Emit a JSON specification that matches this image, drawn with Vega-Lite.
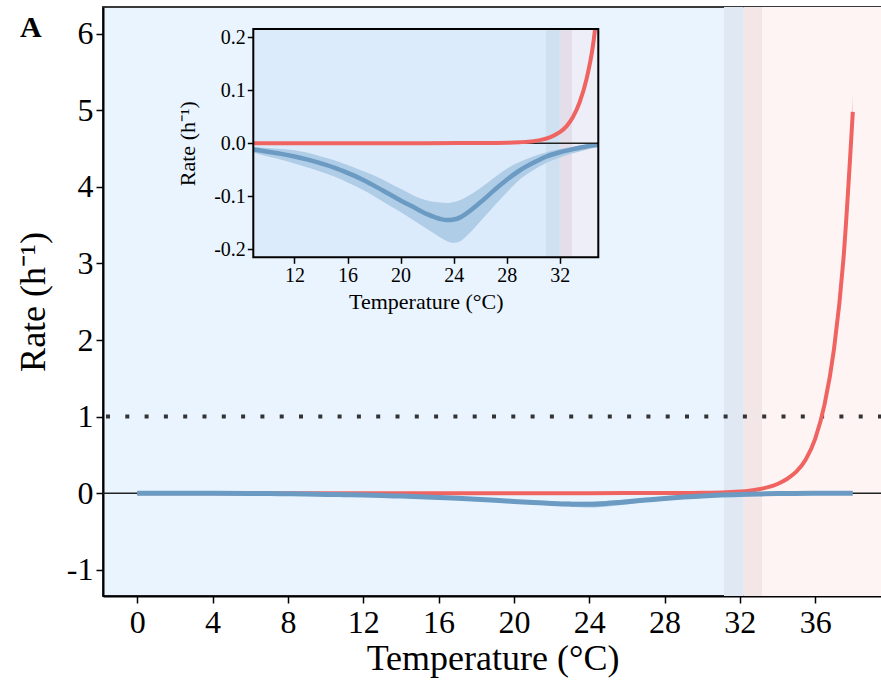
{
  "$schema": "https://vega.github.io/schema/vega-lite/v6.json",
  "width": 779,
  "height": 589,
  "autosize": {"type": "none"},
  "padding": {"left": 103, "top": 7, "right": 0, "bottom": 90},
  "background": "white",
  "config": {
    "view": {"fill": "#EAF4FE", "stroke": "#3a3a3a", "strokeWidth": 2},
    "font": "Liberation Serif",
    "axis": {"labelFont": "Liberation Serif", "titleFont": "Liberation Serif", "labelColor": "black", "titleColor": "black", "tickColor": "black", "domainColor": "black", "grid": false, "titleFontWeight": "normal"}
  },
  "title": {"text": "A", "anchor": "start", "frame": "group", "fontSize": 30, "fontWeight": "bold", "font": "Liberation Serif", "color": "black", "dx": -83, "dy": 36, "offset": 0},
  "datasets": {
    "blue": [
      {"T": 0, "V": -0.0005, "upper": 0, "lower": -0.001},
      {"T": 2, "V": -0.001, "upper": -0.0003, "lower": -0.002},
      {"T": 4, "V": -0.0018, "upper": -0.0007, "lower": -0.003},
      {"T": 6, "V": -0.0035, "upper": -0.0015, "lower": -0.0055},
      {"T": 7, "V": -0.005, "upper": -0.0025, "lower": -0.008},
      {"T": 8, "V": -0.008, "upper": -0.004, "lower": -0.012},
      {"T": 8.9, "V": -0.0115, "upper": -0.0065, "lower": -0.0175},
      {"T": 10, "V": -0.016, "upper": -0.009, "lower": -0.025},
      {"T": 11, "V": -0.02, "upper": -0.011, "lower": -0.031},
      {"T": 12, "V": -0.025, "upper": -0.013, "lower": -0.038},
      {"T": 13, "V": -0.031, "upper": -0.018, "lower": -0.046},
      {"T": 14, "V": -0.038, "upper": -0.025, "lower": -0.054},
      {"T": 15, "V": -0.046, "upper": -0.032, "lower": -0.063},
      {"T": 16, "V": -0.056, "upper": -0.041, "lower": -0.074},
      {"T": 17, "V": -0.067, "upper": -0.051, "lower": -0.086},
      {"T": 18, "V": -0.08, "upper": -0.061, "lower": -0.1},
      {"T": 19, "V": -0.094, "upper": -0.073, "lower": -0.115},
      {"T": 20, "V": -0.108, "upper": -0.086, "lower": -0.13},
      {"T": 21, "V": -0.121, "upper": -0.099, "lower": -0.146},
      {"T": 22, "V": -0.134, "upper": -0.108, "lower": -0.162},
      {"T": 23, "V": -0.143, "upper": -0.112, "lower": -0.178},
      {"T": 23.5, "V": -0.145, "upper": -0.113, "lower": -0.185},
      {"T": 24, "V": -0.144, "upper": -0.111, "lower": -0.188},
      {"T": 24.5, "V": -0.14, "upper": -0.107, "lower": -0.185},
      {"T": 25, "V": -0.132, "upper": -0.101, "lower": -0.175},
      {"T": 26, "V": -0.112, "upper": -0.085, "lower": -0.148},
      {"T": 27, "V": -0.09, "upper": -0.066, "lower": -0.12},
      {"T": 28, "V": -0.069, "upper": -0.048, "lower": -0.093},
      {"T": 29, "V": -0.051, "upper": -0.035, "lower": -0.068},
      {"T": 30, "V": -0.037, "upper": -0.025, "lower": -0.051},
      {"T": 31, "V": -0.025, "upper": -0.017, "lower": -0.037},
      {"T": 32, "V": -0.017, "upper": -0.011, "lower": -0.027},
      {"T": 33, "V": -0.011, "upper": -0.006, "lower": -0.019},
      {"T": 34, "V": -0.006, "upper": -0.003, "lower": -0.012},
      {"T": 34.9, "V": -0.003, "upper": -0.001, "lower": -0.007},
      {"T": 36, "V": -0.0015, "upper": -0.0005, "lower": -0.003},
      {"T": 38, "V": -0.0005, "upper": 0, "lower": -0.001}
    ],
    "red": [
      {"T": 0, "V": 0},
      {"T": 8, "V": 0},
      {"T": 16, "V": 0.0001},
      {"T": 22, "V": 0.0002},
      {"T": 26, "V": 0.0005},
      {"T": 28, "V": 0.001},
      {"T": 29, "V": 0.002},
      {"T": 30, "V": 0.004},
      {"T": 30.5, "V": 0.006},
      {"T": 31, "V": 0.009},
      {"T": 31.5, "V": 0.014},
      {"T": 32, "V": 0.021},
      {"T": 32.5, "V": 0.032},
      {"T": 33, "V": 0.05},
      {"T": 33.5, "V": 0.078},
      {"T": 34, "V": 0.12},
      {"T": 34.5, "V": 0.185},
      {"T": 35, "V": 0.28},
      {"T": 35.5, "V": 0.44},
      {"T": 36, "V": 0.71},
      {"T": 36.5, "V": 1.16},
      {"T": 37, "V": 1.88},
      {"T": 37.5, "V": 3.05},
      {"T": 38, "V": 4.98}
    ],
    "redInset": [
      {"T": 8.9, "V": 0},
      {"T": 16, "V": 0.0001},
      {"T": 22, "V": 0.0002},
      {"T": 26, "V": 0.0005},
      {"T": 28, "V": 0.001},
      {"T": 29, "V": 0.002},
      {"T": 30, "V": 0.004},
      {"T": 30.5, "V": 0.006},
      {"T": 31, "V": 0.009},
      {"T": 31.5, "V": 0.014},
      {"T": 32, "V": 0.021},
      {"T": 32.5, "V": 0.032},
      {"T": 33, "V": 0.05},
      {"T": 33.5, "V": 0.078},
      {"T": 34, "V": 0.12},
      {"T": 34.5, "V": 0.185},
      {"T": 34.66, "V": 0.216}
    ],
    "redRibbon": [
      {"T": 36, "upper": 0.74, "lower": 0.68},
      {"T": 36.5, "upper": 1.22, "lower": 1.1},
      {"T": 37, "upper": 1.99, "lower": 1.78},
      {"T": 37.5, "upper": 3.22, "lower": 2.88},
      {"T": 38, "upper": 5.2, "lower": 4.75}
    ],
    "bandsMain": [
      {"T": 31.16, "T2": 32.2, "zone": "a"},
      {"T": 32.2, "T2": 33.18, "zone": "b"},
      {"T": 33.18, "T2": 39.55, "zone": "c"}
    ],
    "bandsInset": [
      {"T": 8.9, "T2": 30.94, "zone": "cool"},
      {"T": 30.94, "T2": 32.0, "zone": "a"},
      {"T": 32.0, "T2": 32.94, "zone": "b"},
      {"T": 32.94, "T2": 34.9, "zone": "c"}
    ]
  },
  "layer": [
    {
      "layer": [
        {
          "data": {"name": "bandsMain"},
          "mark": {"type": "rect", "clip": true},
          "encoding": {
            "x": {"field": "T", "type": "quantitative", "scale": {"domain": [-1.822, 39.55], "nice": false, "zero": false},
              "axis": {"title": "Temperature (°C)", "values": [0, 4, 8, 12, 16, 20, 24, 28, 32, 36], "format": "d", "labelFontSize": 32, "titleFontSize": 36, "tickSize": 7, "tickWidth": 1.5, "domainWidth": 2, "labelPadding": 4, "titlePadding": 3, "labelFlush": false, "labelOverlap": false}},
            "x2": {"field": "T2"},
            "color": {"field": "zone", "type": "nominal", "scale": {"domain": ["a", "b", "c"], "range": ["#DFE8F3", "#F3E6E6", "#FFF4F4"]}, "legend": null}
          }
        },
        {
          "data": {"values": [{}]},
          "mark": {"type": "rule", "color": "#222222", "strokeWidth": 1.5},
          "encoding": {
            "y": {"datum": 0, "type": "quantitative", "scale": {"domain": [-1.343, 6.349], "nice": false, "zero": false},
              "axis": {"title": "Rate (h⁻¹)", "values": [-1, 0, 1, 2, 3, 4, 5, 6], "format": "d", "labelExpr": "replace(datum.label, '−', '-')", "labelFontSize": 32, "titleFontSize": 36, "tickSize": 7, "tickWidth": 1.5, "domainWidth": 2, "labelPadding": 3, "titlePadding": 14}}
          }
        },
        {
          "data": {"values": [{}]},
          "mark": {"type": "rule", "color": "#333333", "strokeWidth": 4, "strokeDash": [4, 15.3], "strokeCap": "butt"},
          "encoding": {"y": {"datum": 1, "type": "quantitative", "scale": {"domain": [-1.343, 6.349], "nice": false, "zero": false}}}
        },
        {
          "data": {"name": "blue"},
          "mark": {"type": "area", "color": "#AFCDE6", "interpolate": "monotone"},
          "encoding": {
            "x": {"field": "T", "type": "quantitative", "scale": {"domain": [-1.822, 39.55], "nice": false, "zero": false}},
            "y": {"field": "upper", "type": "quantitative", "scale": {"domain": [-1.343, 6.349], "nice": false, "zero": false}},
            "y2": {"field": "lower"}
          }
        },
        {
          "data": {"name": "redRibbon"},
          "mark": {"type": "area", "color": "#EF6461", "opacity": 0.3, "interpolate": "monotone"},
          "encoding": {
            "x": {"field": "T", "type": "quantitative", "scale": {"domain": [-1.822, 39.55], "nice": false, "zero": false}},
            "y": {"field": "upper", "type": "quantitative", "scale": {"domain": [-1.343, 6.349], "nice": false, "zero": false}},
            "y2": {"field": "lower"}
          }
        },
        {
          "data": {"name": "red"},
          "mark": {"type": "line", "color": "#EF6461", "strokeWidth": 4, "interpolate": "monotone"},
          "encoding": {
            "x": {"field": "T", "type": "quantitative", "scale": {"domain": [-1.822, 39.55], "nice": false, "zero": false}},
            "y": {"field": "V", "type": "quantitative", "scale": {"domain": [-1.343, 6.349], "nice": false, "zero": false}}
          }
        },
        {
          "data": {"name": "blue"},
          "mark": {"type": "line", "color": "#6B9BC3", "strokeWidth": 5, "interpolate": "monotone"},
          "encoding": {
            "x": {"field": "T", "type": "quantitative", "scale": {"domain": [-1.822, 39.55], "nice": false, "zero": false}},
            "y": {"field": "V", "type": "quantitative", "scale": {"domain": [-1.343, 6.349], "nice": false, "zero": false}}
          }
        }
      ]
    },
    {
      "layer": [
        {
          "data": {"name": "bandsInset"},
          "mark": {"type": "rect"},
          "encoding": {
            "x": {"field": "T", "type": "quantitative", "scale": {"domain": [8.9, 34.9], "range": [150.3, 495.3], "nice": false, "zero": false},
              "axis": {"orient": "bottom", "offset": -338.7, "title": "Temperature (°C)", "values": [12, 16, 20, 24, 28, 32], "domain": false, "labelFontSize": 20, "titleFontSize": 22, "tickSize": 6, "tickWidth": 1.5, "labelPadding": 2, "titlePadding": 6, "labelFlush": false, "labelOverlap": false, "zindex": 1}},
            "x2": {"field": "T2"},
            "y": {"datum": -0.2155, "type": "quantitative", "scale": {"domain": [-0.2155, 0.216], "range": [250.3, 22], "nice": false, "zero": false},
              "axis": {"orient": "left", "offset": -150.3, "title": "Rate (h⁻¹)", "values": [-0.2, -0.1, 0, 0.1, 0.2], "format": ".1f", "labelExpr": "replace(datum.label, '−', '-')", "domain": false, "labelFontSize": 20, "titleFontSize": 22, "tickSize": 6, "tickWidth": 1.5, "labelPadding": 2, "titlePadding": 14, "zindex": 1}},
            "y2": {"datum": 0.216},
            "color": {"field": "zone", "type": "nominal", "scale": {"domain": ["cool", "a", "b", "c"], "range": ["#DCEBFB", "#CFE0F1", "#E3DEEA", "#EEEEF8"]}, "legend": null}
          }
        },
        {
          "data": {"name": "blue"},
          "transform": [{"filter": "datum.T >= 8.9 && datum.T <= 34.9"}],
          "mark": {"type": "area", "color": "#AFCDE6", "interpolate": "monotone"},
          "encoding": {
            "x": {"field": "T", "type": "quantitative", "scale": {"domain": [8.9, 34.9], "range": [150.3, 495.3], "nice": false, "zero": false}},
            "y": {"field": "upper", "type": "quantitative", "scale": {"domain": [-0.2155, 0.216], "range": [250.3, 22], "nice": false, "zero": false}},
            "y2": {"field": "lower"}
          }
        },
        {
          "data": {"name": "blue"},
          "transform": [{"filter": "datum.T >= 8.9 && datum.T <= 34.9"}],
          "mark": {"type": "line", "color": "#6B9BC3", "strokeWidth": 4.5, "interpolate": "monotone"},
          "encoding": {
            "x": {"field": "T", "type": "quantitative", "scale": {"domain": [8.9, 34.9], "range": [150.3, 495.3], "nice": false, "zero": false}},
            "y": {"field": "V", "type": "quantitative", "scale": {"domain": [-0.2155, 0.216], "range": [250.3, 22], "nice": false, "zero": false}}
          }
        },
        {
          "data": {"values": [{}]},
          "mark": {"type": "rule", "color": "#222222", "strokeWidth": 1.5},
          "encoding": {
            "x": {"datum": 8.9, "type": "quantitative", "scale": {"domain": [8.9, 34.9], "range": [150.3, 495.3], "nice": false, "zero": false}},
            "x2": {"datum": 34.9},
            "y": {"datum": 0, "type": "quantitative", "scale": {"domain": [-0.2155, 0.216], "range": [250.3, 22], "nice": false, "zero": false}}
          }
        },
        {
          "data": {"name": "redInset"},
          "mark": {"type": "line", "color": "#EF6461", "strokeWidth": 4, "interpolate": "monotone"},
          "encoding": {
            "x": {"field": "T", "type": "quantitative", "scale": {"domain": [8.9, 34.9], "range": [150.3, 495.3], "nice": false, "zero": false}},
            "y": {"field": "V", "type": "quantitative", "scale": {"domain": [-0.2155, 0.216], "range": [250.3, 22], "nice": false, "zero": false}}
          }
        },
        {
          "data": {"values": [{}]},
          "mark": {"type": "rect", "fill": null, "fillOpacity": 0, "stroke": "black", "strokeWidth": 2},
          "encoding": {
            "x": {"datum": 8.9, "type": "quantitative", "scale": {"domain": [8.9, 34.9], "range": [150.3, 495.3], "nice": false, "zero": false}},
            "x2": {"datum": 34.9},
            "y": {"datum": -0.2155, "type": "quantitative", "scale": {"domain": [-0.2155, 0.216], "range": [250.3, 22], "nice": false, "zero": false}},
            "y2": {"datum": 0.216}
          }
        }
      ]
    }
  ],
  "resolve": {
    "scale": {"x": "independent", "y": "independent", "color": "independent"},
    "axis": {"x": "independent", "y": "independent"}
  }
}
